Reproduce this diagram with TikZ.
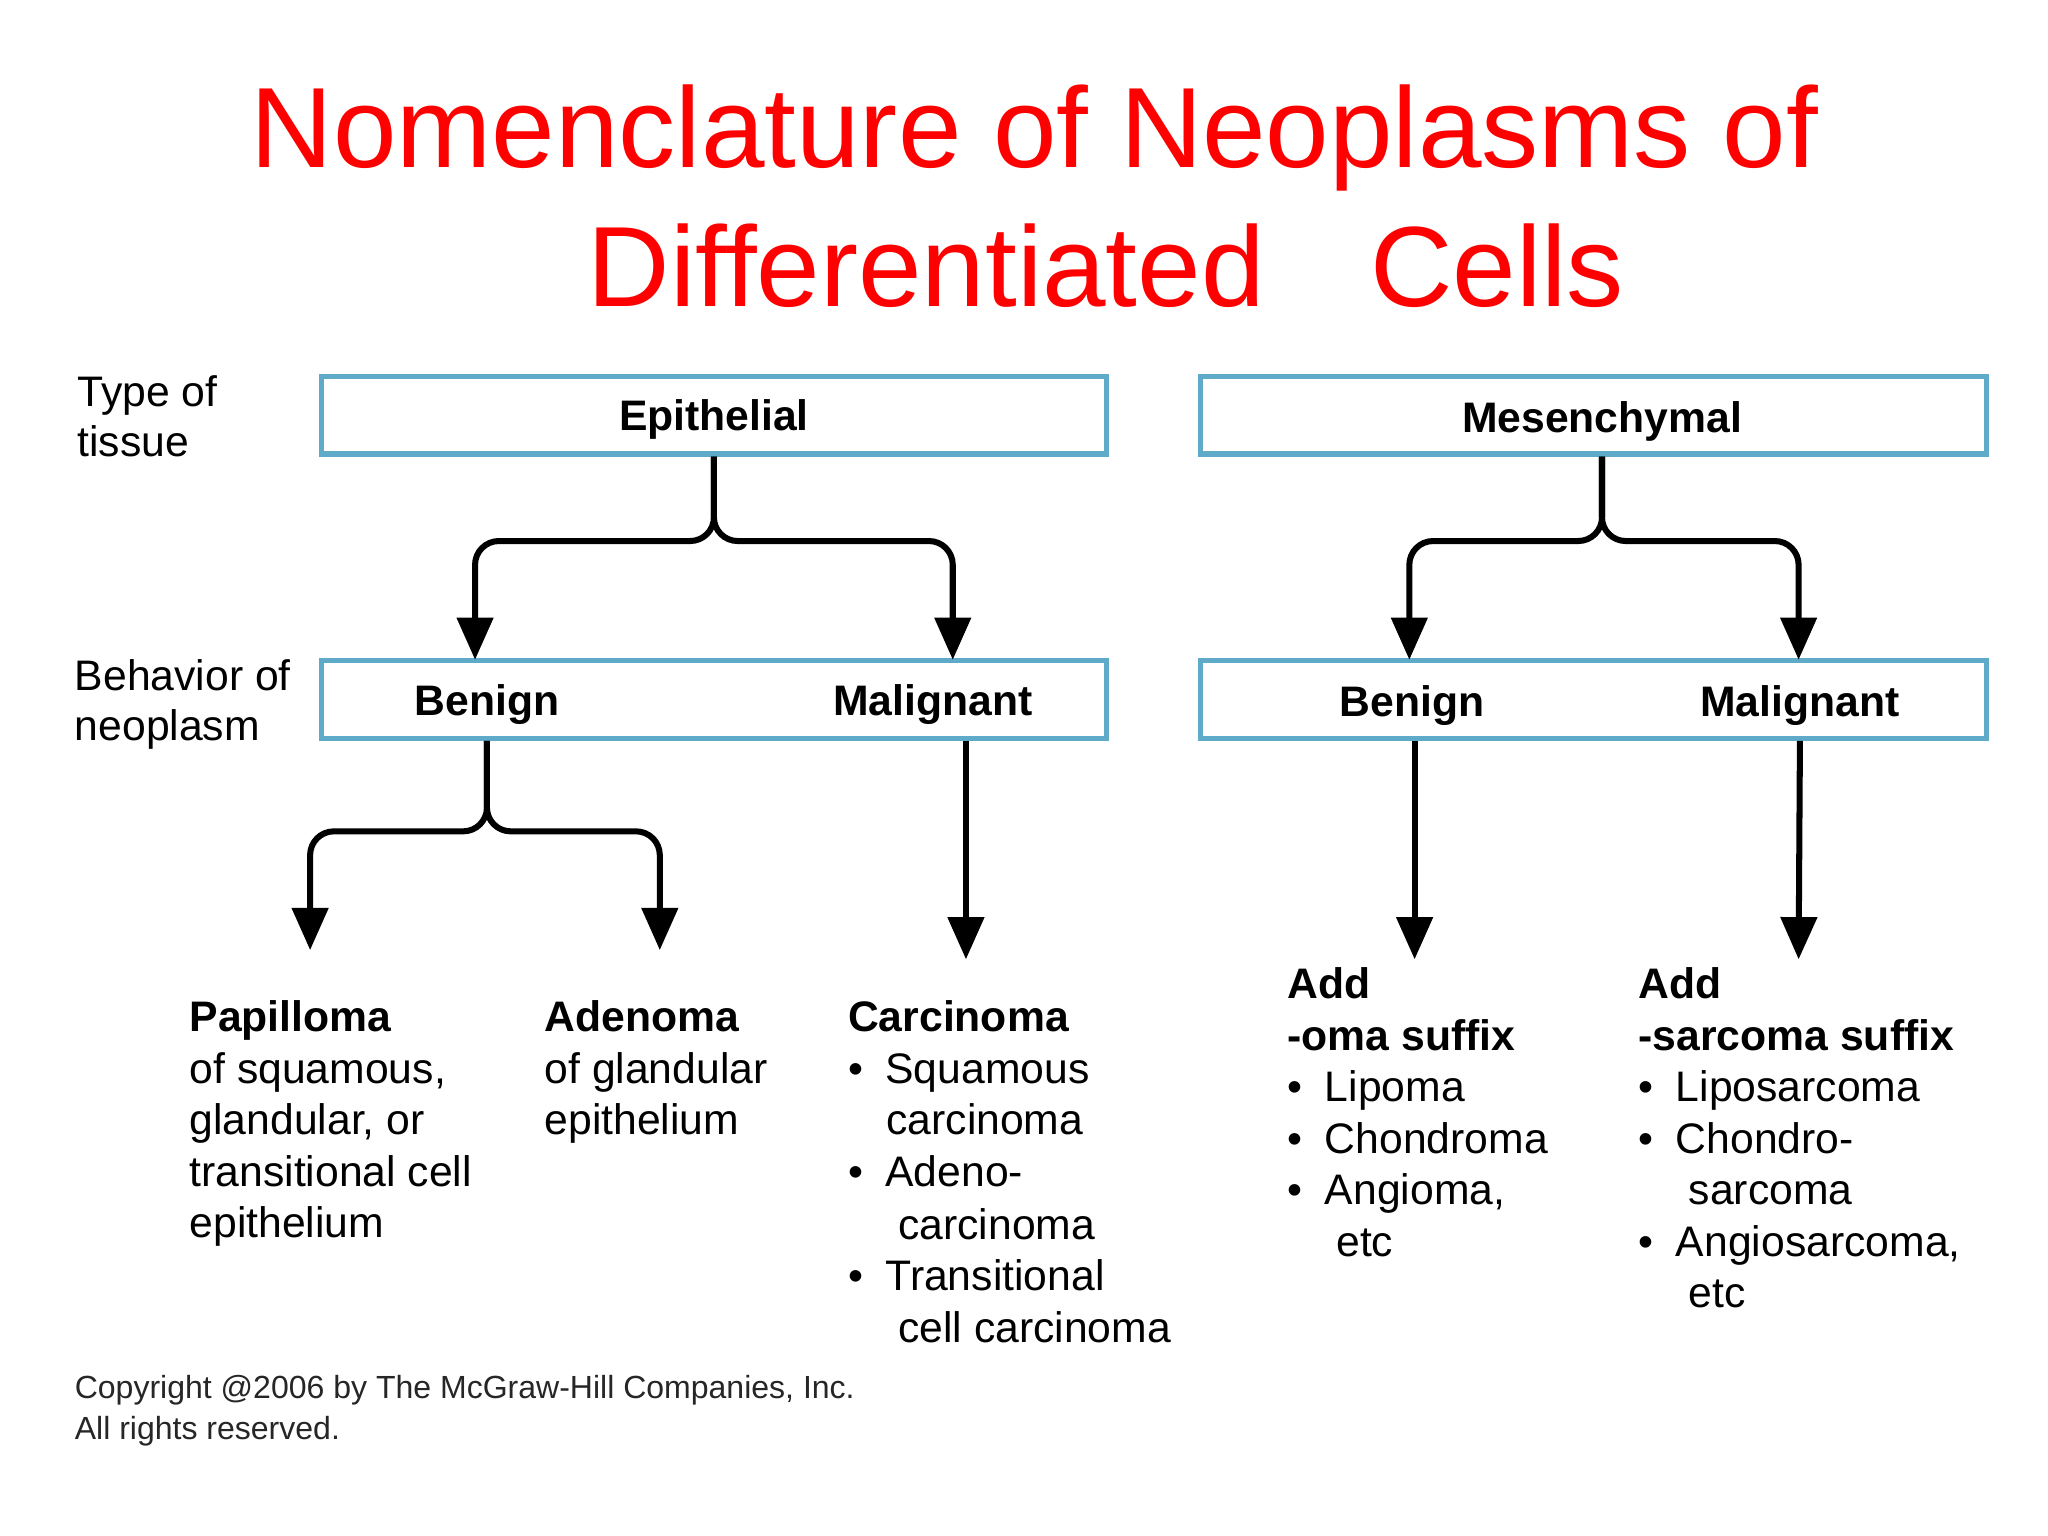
\documentclass[tikz,border=0pt]{standalone}
\usepackage{fontspec}
\setmainfont{Liberation Sans}
\newfontfamily\cpy{DejaVu Sans Mono}
\usetikzlibrary{arrows.meta}
\definecolor{boxc}{RGB}{95,170,200}
\begin{document}
\begin{tikzpicture}[x=0.01cm,y=-0.01cm,
  box/.style={draw=boxc, line width=1.1pt, minimum height=0.59cm, inner sep=0pt},
  txt/.style={anchor=base west, inner sep=0pt, font=\fontsize{9.2}{11}\selectfont},
  btxt/.style={txt, font=\fontsize{9.2}{11}\selectfont\bfseries},
  arr/.style={line width=1.3pt, rounded corners=0.18cm, -{Triangle[width=0.27cm,length=0.32cm]}}]
\useasboundingbox (0,0) rectangle (1552,1164);
\node[text=red, font=\fontsize{24.6}{30}\selectfont, anchor=base] (t1) at (784,127) {Nomenclature of Neoplasms of};
\node[text=red, font=\fontsize{24.6}{30}\selectfont, anchor=base] (t2) at (838,232) {Differentiated\hspace{0.8cm}Cells};
% boxes
\node[box, minimum width=5.94cm] (E) at (541,314.5) {};
\node[box, minimum width=5.95cm] (M) at (1207.5,314.5) {};
\node[box, minimum width=5.94cm] (EB) at (541,530) {};
\node[box, minimum width=5.95cm] (MB) at (1207.5,530) {};
\node[btxt, anchor=base] (Et) at (541,326) {Epithelial};
\node[btxt, anchor=base] (Mt) at (1214,328) {Mesenchymal};
\node[btxt, anchor=base] (Eb) at (369,542) {Benign};
\node[btxt, anchor=base] (Em) at (707,542) {Malignant};
\node[btxt, anchor=base] (Mb) at (1070,543) {Benign};
\node[btxt, anchor=base] (Mm) at (1364,543) {Malignant};
\node[txt] (L1) at (58,308) {Type of};
\node[txt] (L2) at (58,346) {tissue};
\node[txt] (L3) at (56,523) {Behavior of};
\node[txt] (L4) at (56,561) {neoplasm};
% connectors
\coordinate (ej) at (541,410);
\coordinate (mj) at (1214,410);
\coordinate (bj) at (369,630);
\draw[arr] (E.south -| ej) -- (ej) -- (360,410) -- (360,500);
\draw[arr] (E.south -| ej) -- (ej) -- (722,410) -- (722,500);
\draw[arr] (M.south -| mj) -- (mj) -- (1068,410) -- (1068,500);
\draw[arr] (M.south -| mj) -- (mj) -- (1363,410) -- (1363,500);
\draw[arr] (EB.south -| bj) -- (bj) -- (235,630) -- (235,720);
\draw[arr] (EB.south -| bj) -- (bj) -- (500,630) -- (500,720);
\draw[arr] (EB.south -| Em) ++(25,0) -- (732,727);
\draw[arr] (MB.south -| Mb) ++(2,0) -- (1072,727);
\draw[arr] (MB.south -| Mm) -- (1363,727);
% papilloma
\node[btxt] (p1) at (143,782) {Papilloma};
\node[txt] (p2) at (143,821) {of squamous,};
\node[txt] (p3) at (143,860) {glandular, or};
\node[txt] (p4) at (143,899) {transitional cell};
\node[txt] (p5) at (143,938) {epithelium};
\node[btxt] (a1) at (412,782) {Adenoma};
\node[txt] (a2) at (412,821) {of glandular};
\node[txt] (a3) at (412,860) {epithelium};
\node[btxt] (c1) at (642,782) {Carcinoma};
\node[txt] (c2) at (642,821) {•\hspace{0.17cm}Squamous};
\node[txt] (c3) at (671,860) {carcinoma};
\node[txt] (c4) at (642,899) {•\hspace{0.17cm}Adeno-};
\node[txt] (c5) at (680,939) {carcinoma};
\node[txt] (c6) at (642,978) {•\hspace{0.17cm}Transitional};
\node[txt] (c7) at (680,1017) {cell carcinoma};
\node[btxt] (m1) at (975,757) {Add};
\node[btxt] (m2) at (975,796) {-oma suffix};
\node[txt] (m3) at (975,835) {•\hspace{0.17cm}Lipoma};
\node[txt] (m4) at (975,874) {•\hspace{0.17cm}Chondroma};
\node[txt] (m5) at (975,913) {•\hspace{0.17cm}Angioma,};
\node[txt] (m6) at (1012,952) {etc};
\node[btxt] (s1) at (1241,757) {Add};
\node[btxt] (s2) at (1241,796) {-sarcoma suffix};
\node[txt] (s3) at (1241,835) {•\hspace{0.17cm}Liposarcoma};
\node[txt] (s4) at (1241,874) {•\hspace{0.17cm}Chondro-};
\node[txt] (s5) at (1279,913) {sarcoma};
\node[txt] (s6) at (1241,952) {•\hspace{0.17cm}Angiosarcoma,};
\node[txt] (s7) at (1279,991) {etc};
\node[anchor=base west, inner sep=0pt, font=\fontsize{6.9}{8}\selectfont, text=black!85] (cp1) at (56,1060) {Copyright @2006 by The McGraw-Hill Companies, Inc.};
\node[anchor=base west, inner sep=0pt, font=\fontsize{6.9}{8}\selectfont, text=black!85] (cp2) at (56,1091) {All rights reserved.};
\end{tikzpicture}
\end{document}
